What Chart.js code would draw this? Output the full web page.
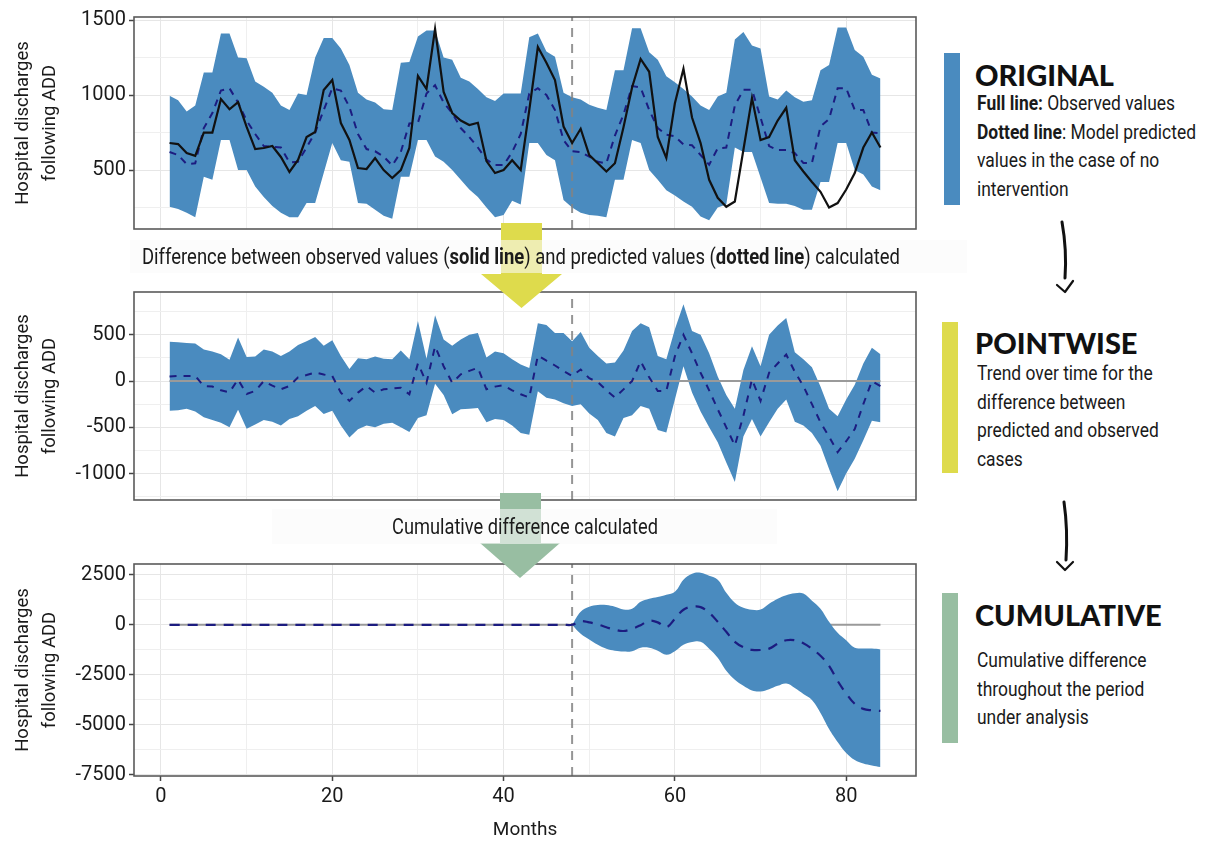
<!DOCTYPE html>
<html>
<head>
<meta charset="utf-8">
<script src="https://cdn.jsdelivr.net/npm/chart.js@4.4.1/dist/chart.umd.min.js"></script>
<style>
  html, body { margin: 0; padding: 0; background: #fff; }
  #wrap { position: relative; width: 1208px; height: 841px; overflow: hidden; background: #fff; }
  canvas { position: absolute; left: 0; }
  .narrow { font-family: Roboto, "Noto Sans", sans-serif; color: #1a1a1a; }
  .band { position: absolute; background: rgba(249,249,249,0.58); }
  .arrow { position: absolute; }
  .note { position: absolute; white-space: nowrap; font-size: 22px; line-height: 32px; }
  .note span { display: inline-block; transform-origin: 0 50%; }
  .bar { position: absolute; width: 16px; }
  .head { position: absolute; left: 975px; font-family: "Lato", "Inter", "DejaVu Sans", sans-serif; font-weight: 900; font-size: 29px; line-height: 28px; color: #111; }
  .body { position: absolute; left: 977px; font-size: 21px; line-height: 28.5px; white-space: nowrap; transform-origin: 0 0; }
  .body b, .note b { font-weight: 700; }
</style>
</head>
<body>
<div id="wrap">
  <canvas id="original" width="930" height="245" style="top:0px"></canvas>
  <canvas id="pointwise" width="930" height="240" style="top:275px"></canvas>
  <canvas id="cumulative" width="930" height="301" style="top:540px"></canvas>

  <!-- arrows between the panels -->
  <div class="arrow" style="left:481px;top:223px;width:81px;height:85px;background:#dedb4c;
       clip-path:polygon(20px 0,61px 0,61px 51px,81px 51px,40.5px 85px,0 51px,20px 51px);"></div>
  <div class="band" style="left:130px;top:240px;width:837px;height:33px;"></div>
  <div class="note narrow" id="note1" style="left:142px;top:241px;"><span>Difference between observed values (<b>solid line</b>) and predicted values (<b>dotted line</b>) calculated</span></div>

  <div class="arrow" style="left:480px;top:493px;width:80px;height:85px;background:#98bea2;
       clip-path:polygon(20px 0,61px 0,61px 50px,80px 50px,40px 85px,0 50px,20px 50px);"></div>
  <div class="band" style="left:272px;top:509px;width:505px;height:35px;"></div>
  <div class="note narrow" id="note2" style="left:392px;top:511px;"><span>Cumulative difference calculated</span></div>

  <!-- right hand notes -->
  <div class="bar" style="left:944px;top:53px;height:152px;background:#4a8bbf;"></div>
  <div class="head" style="top:61px;">ORIGINAL</div>
  <div class="body narrow" id="body1" style="top:89px;"><b>Full line:</b> Observed values<br><b>Dotted line</b>: Model predicted<br>values in the case of no<br>intervention</div>

  <div class="bar" style="left:942px;top:322px;height:151px;background:#dedb4c;"></div>
  <div class="head" style="top:329px;">POINTWISE</div>
  <div class="body narrow" style="top:359px;">Trend over time for the<br>difference between<br>predicted and observed<br>cases</div>

  <div class="bar" style="left:942px;top:593px;height:150px;background:#98bea2;"></div>
  <div class="head" style="top:601px;">CUMULATIVE</div>
  <div class="body narrow" style="top:646px;">Cumulative difference<br>throughout the period<br>under analysis</div>

  <svg style="position:absolute;left:1040px;top:215px" width="50" height="90">
    <path d="M22 7 Q27 35 25 63" stroke="#111" stroke-width="3" fill="none" stroke-linecap="round"/>
    <path d="M17 70 L25 77 L33 66" stroke="#111" stroke-width="2.2" fill="none" stroke-linecap="round" stroke-linejoin="round"/>
  </svg>
  <svg style="position:absolute;left:1040px;top:495px" width="50" height="90">
    <path d="M24 7 Q28 35 26 65" stroke="#111" stroke-width="3" fill="none" stroke-linecap="round"/>
    <path d="M17 67 L25 75 L33 67" stroke="#111" stroke-width="2.2" fill="none" stroke-linecap="round" stroke-linejoin="round"/>
  </svg>
</div>

<script>
// ---- data ----
const months = [1,2,3,4,5,6,7,8,9,10,11,12,13,14,15,16,17,18,19,20,
  21,22,23,24,25,26,27,28,29,30,31,32,33,34,35,36,37,38,39,40,
  41,42,43,44,45,46,47,48,49,50,51,52,53,54,55,56,57,58,59,60,
  61,62,63,64,65,66,67,68,69,70,71,72,73,74,75,76,77,78,79,80,
  81,82,83,84];
const interventionMonth = 48;

// panel 1: observed, predicted and its interval
const origObserved = [680,673,613,595,750,750,973,905,953,787,
  640,647,660,587,487,567,720,753,1033,1100,
  813,700,513,507,580,500,447,500,647,1127,
  1040,1440,1020,880,830,800,815,560,480,500,
  565,500,900,1320,1215,1100,790,680,775,600,
  545,490,545,785,1050,1240,1155,720,580,945,
  1175,850,680,435,315,255,290,635,980,700,
  720,830,915,565,490,420,355,250,280,370,
  480,650,750,650];
const origPredicted = [620,600,540,545,780,880,1030,1045,950,830,
  740,660,655,650,550,555,650,750,900,1045,
  1030,920,740,640,625,590,530,620,810,815,
  1010,1065,950,880,780,720,650,570,533,533,
  620,740,1010,1045,1000,900,700,625,620,590,
  555,545,730,870,1060,1050,900,780,735,725,
  670,665,600,535,645,650,930,1035,1035,850,
  660,633,633,613,547,547,790,840,1045,1045,
  900,900,750,745];
const origUpper = [995,965,890,930,1150,1150,1410,1410,1250,1245,
  1090,1055,1015,930,900,1010,1000,1250,1380,1380,
  1310,1200,1015,970,950,905,900,1215,1220,1390,
  1430,1430,1250,1235,1115,1090,1040,985,960,1010,
  1010,1010,1385,1410,1290,1255,1015,985,970,935,
  915,900,1165,1165,1445,1445,1285,1235,1125,1085,
  1040,990,930,900,990,1015,1370,1420,1330,1310,
  990,970,1030,985,955,965,1165,1200,1450,1450,
  1300,1255,1135,1110];
const origLower = [255,240,215,185,455,435,700,700,500,500,
  390,320,260,215,185,185,280,280,480,680,
  565,555,280,275,235,195,175,455,455,700,
  700,590,555,500,435,370,320,250,185,200,
  295,270,680,680,600,565,300,250,215,200,
  195,185,435,435,700,680,500,435,365,330,
  290,255,190,165,250,270,650,620,620,450,
  280,275,275,260,235,235,420,420,680,680,
  500,470,390,365];

// panel 2: pointwise difference
const pwMean = [50,55,55,55,-54,-60,-100,-121,18,-140,
  -107,0,-50,-89,-54,40,65,93,70,54,
  -125,-214,-125,-54,-125,-89,-80,-72,-143,190,
  -18,375,160,-18,72,110,144,-89,-60,-46,
  -100,-143,-178,275,220,168,110,54,125,30,
  -10,-100,-178,-90,0,214,40,-107,-107,268,
  500,300,90,-100,-304,-500,-697,-375,18,-214,
  90,190,286,100,-54,-250,-446,-600,-768,-650,
  -518,-250,0,-54];
const pwUpper = [425,420,410,405,340,320,290,230,470,260,
  265,340,320,270,320,390,430,475,380,440,
  270,130,245,235,265,240,235,330,235,650,
  240,710,450,380,450,500,518,255,320,300,
  235,180,140,625,605,520,520,430,530,360,
  270,190,200,330,540,625,580,270,235,560,
  830,540,500,300,50,-150,-300,120,375,160,
  500,600,680,310,235,150,-60,-300,-380,-200,
  -40,190,360,290];
const pwLower = [-320,-315,-300,-330,-390,-420,-450,-500,-310,-515,
  -470,-420,-440,-480,-410,-380,-320,-270,-355,-320,
  -480,-610,-520,-480,-500,-460,-450,-500,-550,-400,
  -370,-30,-150,-360,-305,-300,-290,-445,-410,-420,
  -480,-560,-580,-110,-180,-200,-240,-270,-250,-350,
  -420,-560,-600,-400,-370,-270,-300,-530,-555,-200,
  160,-125,-330,-500,-660,-880,-1090,-600,-410,-600,
  -445,-300,-200,-440,-480,-560,-700,-950,-1190,-1000,
  -840,-640,-430,-445];

// panel 3: cumulative difference (interval only after the intervention)
const cumMean = [0,0,0,0,0,0,0,0,0,0,0,0,0,0,0,0,0,0,0,0,
  0,0,0,0,0,0,0,0,0,0,0,0,0,0,0,0,0,0,0,0,
  0,0,0,0,0,0,0,0,180,120,
  20,-120,-250,-310,-200,-20,200,120,-120,300,
  750,900,880,600,150,-350,-850,-1120,-1250,-1260,
  -1190,-950,-770,-770,-920,-1200,-1550,-2050,-2800,-3430,
  -3950,-4200,-4270,-4300];
const cumMonths = [48,49,50,51,52,53,54,55,56,57,58,59,60,61,62,63,64,65,66,67,
  68,69,70,71,72,73,74,75,76,77,78,79,80,81,82,83,84];
const cumUpper = [0,650,900,985,985,900,760,800,1150,1300,1390,1500,1650,2250,2550,2600,2450,2250,1600,1100,
  850,750,760,1050,1300,1480,1580,1560,1200,800,150,-400,-770,-1150,-1180,-1190,-1230];
const cumLower = [0,-450,-730,-1000,-1200,-1300,-1340,-1320,-1150,-1150,-1300,-1500,-1320,-1000,-860,-850,-1200,-1650,-2300,-2750,
  -3050,-3280,-3330,-3220,-3050,-2930,-3150,-3450,-3750,-4400,-5200,-5850,-6400,-6750,-6930,-7020,-7100];

// axis breaks
const xGrid = [0,10,20,30,40,50,60,70,80];
const xLabels = [0,20,40,60,80];
const origGrid = [250,500,750,1000,1250,1500];
const origLabels = [500,1000,1500];
const pwGrid = [-1250,-1000,-750,-500,-250,0,250,500,750];
const pwLabels = [-1000,-500,0,500];
const cumGrid = [-7500,-6250,-5000,-3750,-2500,-1250,0,1250,2500];
const cumLabels = [-7500,-5000,-2500,0,2500];

// ---- styling ----
const FONT = 'Roboto, "Noto Sans", sans-serif';
const BAND = '#4a8bbf';
const NAVY = '#1c1c80';
const TXT = '#1a1a1a';
const yTitle = ['Hospital discharges', 'following ADD'];

// squeeze the html notes to the width of the narrow font of the original
function squeeze(el, target) {
  const w = el.getBoundingClientRect().width;
  el.style.transform = 'scaleX(' + (target / w) + ')';
  return target / w;
}
squeeze(document.querySelector('#note1 span'), 758);
squeeze(document.querySelector('#note2 span'), 266);
const bodyScale = 219 / document.getElementById('body1').getBoundingClientRect().width;
document.querySelectorAll('.body').forEach(el => { el.style.transform = 'scaleX(' + bodyScale + ')'; });

function pts(xs, ys) {
  return xs.map((x, i) => ({x: x, y: ys[i]}));
}

function xAxis(showLabels) {
  return {
    type: 'linear',
    min: -3.15,
    max: 88.15,
    afterBuildTicks: s => { s.ticks = xGrid.map(v => ({value: v})); },
    afterFit: s => { s.height = showLabels ? 65 : 0; },
    border: {display: false},
    grid: {
      color: ctx => xLabels.includes(ctx.tick.value) ? '#e6e6e6' : '#efefef',
      lineWidth: 1,
      drawTicks: showLabels,
      tickLength: 5,
      tickWidth: 1.5,
      tickColor: ctx => xLabels.includes(ctx.tick.value) ? '#444' : 'rgba(0,0,0,0)'
    },
    ticks: {
      display: showLabels,
      autoSkip: false,
      maxRotation: 0,
      padding: 4,
      color: TXT,
      font: {family: FONT, size: 20},
      callback: v => xLabels.includes(v) ? String(v) : ''
    },
    title: {
      display: showLabels,
      text: 'Months',
      color: TXT,
      font: {family: FONT, size: 19, lineHeight: 1},
      padding: {top: 0, bottom: 1}
    }
  };
}

function yAxis(min, max, grid, labels) {
  return {
    min: min,
    max: max,
    afterBuildTicks: s => { s.ticks = grid.map(v => ({value: v})); },
    afterFit: s => { s.width = 134; },
    border: {display: false},
    grid: {
      color: ctx => labels.includes(ctx.tick.value) ? '#e6e6e6' : '#efefef',
      lineWidth: 1,
      drawTicks: true,
      tickLength: 5,
      tickWidth: 1.5,
      tickColor: ctx => labels.includes(ctx.tick.value) ? '#444' : 'rgba(0,0,0,0)'
    },
    ticks: {
      autoSkip: false,
      padding: 3,
      color: TXT,
      font: {family: FONT, size: 20},
      callback: v => labels.includes(v) ? String(v) : ''
    },
    title: {
      display: true,
      text: yTitle,
      color: TXT,
      font: {family: FONT, size: 18.5, lineHeight: 1.45},
      padding: {top: 10, bottom: 0}
    }
  };
}

// box round the plot area, like the ggplot panel border
const frame = {
  id: 'frame',
  afterDraw(chart) {
    const a = chart.chartArea;
    const ctx = chart.ctx;
    ctx.save();
    ctx.strokeStyle = '#5a5a5a';
    ctx.lineWidth = 1.6;
    ctx.strokeRect(a.left, a.top, a.right - a.left, a.bottom - a.top);
    ctx.restore();
  }
};

function bandSets(xs, up, lo, order, tension) {
  return [
    {data: pts(xs, up), fill: '+1', backgroundColor: BAND, borderWidth: 0, pointRadius: 0, tension: tension, order: order},
    {data: pts(xs, lo), fill: false, borderWidth: 0, pointRadius: 0, tension: tension, order: order}
  ];
}

function vline(min, max) {
  return {data: [{x: interventionMonth, y: min}, {x: interventionMonth, y: max}],
    borderColor: 'rgba(130,130,130,0.85)', borderWidth: 2, borderDash: [9, 7], pointRadius: 0, fill: false, order: 4};
}

function zeroLine(order) {
  return {data: pts([months[0], months[months.length - 1]], [0, 0]),
    borderColor: '#9a9a9a', borderWidth: 2, pointRadius: 0, fill: false, order: order};
}

function baseOptions(x, y, pad) {
  return {
    responsive: false,
    animation: false,
    devicePixelRatio: 1,
    layout: {padding: pad},
    plugins: {legend: {display: false}, tooltip: {enabled: false}},
    scales: {x: x, y: y}
  };
}

// ---- panel 1: original ----
new Chart(document.getElementById('original'), {
  type: 'line',
  data: {
    datasets: [
      ...bandSets(months, origUpper, origLower, 10, 0),
      vline(107, 1520),
      {data: pts(months, origPredicted), borderColor: NAVY, borderWidth: 2, borderDash: [7, 6], pointRadius: 0, fill: false, order: 2},
      {data: pts(months, origObserved), borderColor: '#111', borderWidth: 2.2, pointRadius: 0, fill: false, order: 1}
    ]
  },
  options: baseOptions(xAxis(false), yAxis(107, 1520, origGrid, origLabels), {top: 17, right: 14, bottom: 16, left: 0}),
  plugins: [frame]
});

// ---- panel 2: pointwise ----
new Chart(document.getElementById('pointwise'), {
  type: 'line',
  data: {
    datasets: [
      ...bandSets(months, pwUpper, pwLower, 10, 0),
      zeroLine(5),
      vline(-1285, 962),
      {data: pts(months, pwMean), borderColor: NAVY, borderWidth: 2, borderDash: [7, 7], pointRadius: 0, fill: false, order: 1}
    ]
  },
  options: baseOptions(xAxis(false), yAxis(-1285, 962, pwGrid, pwLabels), {top: 17, right: 14, bottom: 13, left: 0}),
  plugins: [frame]
});

// ---- panel 3: cumulative ----
new Chart(document.getElementById('cumulative'), {
  type: 'line',
  data: {
    datasets: [
      zeroLine(20),
      ...bandSets(cumMonths, cumUpper, cumLower, 10, 0.4),
      vline(-7550, 3035),
      {data: pts(months, cumMean), borderColor: NAVY, borderWidth: 2.2, borderDash: [10, 8], pointRadius: 0, fill: false, tension: 0.4, order: 1}
    ]
  },
  options: baseOptions(xAxis(true), yAxis(-7550, 3035, cumGrid, cumLabels), {top: 24, right: 14, bottom: 0, left: 0}),
  plugins: [frame]
});
</script>
</body>
</html>
